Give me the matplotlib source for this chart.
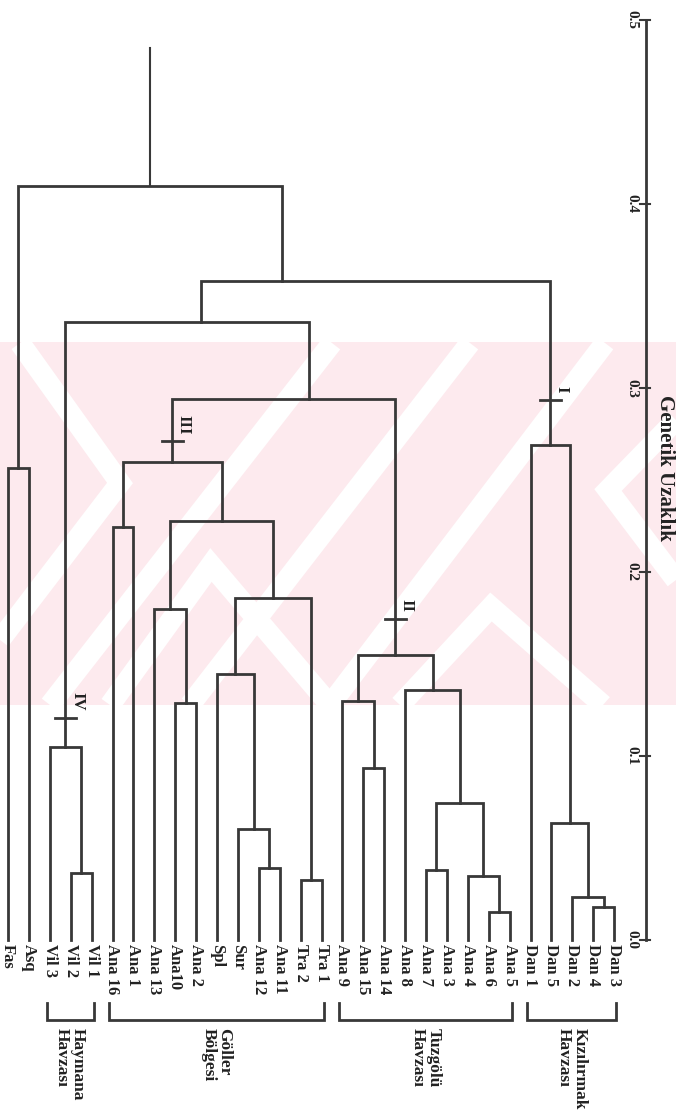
import matplotlib
matplotlib.use("Agg")
import matplotlib.pyplot as plt
from matplotlib.patches import Rectangle

# leaves, left to right
leaves = ["Fas", "Asq", "Vil 3", "Vil 2", "Vil 1", "Ana 16", "Ana 1", "Ana 13",
          "Ana10", "Ana 2", "Spl", "Sur", "Ana 12", "Ana 11", "Tra 2", "Tra 1",
          "Ana 9", "Ana 15", "Ana 14", "Ana 8", "Ana 7", "Ana 3", "Ana 4",
          "Ana 6", "Ana 5", "Dan 1", "Dan 5", "Dan 2", "Dan 4", "Dan 3"]

# merges (node, left child, right child, genetic distance)
node_names = ["n_fas", "n_vil12", "n_vil", "n_a16", "n_a10", "n_a13", "n_a12",
              "n_sur", "n_spl", "n_tra", "n_spltra", "n_a13spl", "n_goller",
              "n_a15", "n_a9", "n_a7", "n_a65", "n_a4", "n_a734", "n_a8",
              "n_tuz", "n_gt", "n_vgt", "n_d43", "n_d2", "n_d5", "n_dan",
              "n_all", "root"]
merge_left = ["Fas", "Vil 2", "Vil 3", "Ana 16", "Ana10", "Ana 13", "Ana 12",
              "Sur", "Spl", "Tra 2", "n_spl", "n_a13", "n_a16",
              "Ana 15", "Ana 9", "Ana 7", "Ana 6", "Ana 4", "n_a7", "Ana 8",
              "n_a9", "n_goller", "n_vil", "Dan 4", "Dan 2", "Dan 5", "Dan 1",
              "n_vgt", "n_fas"]
merge_right = ["Asq", "Vil 1", "n_vil12", "Ana 1", "Ana 2", "n_a10", "Ana 11",
               "n_a12", "n_sur", "Tra 1", "n_tra", "n_spltra", "n_a13spl",
               "Ana 14", "n_a15", "Ana 3", "Ana 5", "n_a65", "n_a4", "n_a734",
               "n_a8", "n_tuz", "n_gt", "Dan 3", "n_d43", "n_d2", "n_d5",
               "n_dan", "n_all"]
merge_height = [0.2565, 0.0364, 0.105, 0.2245, 0.129, 0.180, 0.039,
                 0.0603, 0.1446, 0.0326, 0.186, 0.2277, 0.260,
                 0.0935, 0.130, 0.038, 0.0152, 0.035, 0.0745, 0.136,
                 0.155, 0.294, 0.336, 0.018, 0.0234, 0.0636, 0.269,
                 0.358, 0.410]
root_top = 0.485

# clusters whose stem is not drawn at the midpoint (leaf index units)
stem_at = {"n_gt": 14.4, "n_vgt": 9.23, "n_all": 13.1}

# cluster marks
mark_nodes = ["n_dan", "n_tuz", "n_goller", "n_vil"]
mark_labels = ["I", "II", "III", "IV"]
mark_heights = [0.2935, 0.1745, 0.271, 0.1207]

# region groups
group_labels = ["Haymana\nHavzası", "Göller\nBölgesi", "Tuzgölü\nHavzası", "Kızılırmak\nHavzası"]
group_first = ["Vil 3", "Ana 16", "Ana 9", "Dan 1"]
group_last = ["Vil 1", "Tra 1", "Ana 5", "Dan 3"]

ticks = [0.0, 0.1, 0.2, 0.3, 0.4, 0.5]

# pixel layout of the page
W, H = 676, 1120
X0, DX = 8, 20.9      # first leaf pixel, pixels per leaf
Y0, DY = 940, 1840    # pixel of distance 0, pixels per unit distance
INK = "#383838"
SERIF = "Liberation Serif"

def px(x):
    return (x - X0) / DX

def dy(p):
    return p / DY

fig = plt.figure(figsize=(W / 100, H / 100), dpi=100)
fig.patch.set_facecolor("white")

# faint pink watermark band (scanned page background)
bg = fig.add_axes([0, 0, 1, 1], zorder=0)
bg.set_xlim(0, W)
bg.set_ylim(H, 0)
bg.axis("off")
band = Rectangle((0, 342), W, 363, facecolor="#fdeaee", edgecolor="none")
bg.add_patch(band)
wm_strokes = [
    [(332, 343), (50, 705)],
    [(470, 343), (190, 705)],
    [(605, 343), (330, 705)],
    [(20, 343), (120, 483), (0, 640)],
    [(676, 420), (608, 490), (676, 580)],
    [(400, 705), (491, 607), (603, 705)],
    [(110, 705), (211, 565), (330, 705)],
]
for stroke in wm_strokes:
    xs, ys = zip(*stroke)
    ln, = bg.plot(xs, ys, color="white", lw=15, solid_capstyle="butt",
                  solid_joinstyle="miter")
    ln.set_clip_path(band)

ax = fig.add_axes([0, 0, 1, 1], zorder=1)
ax.patch.set_alpha(0)
ax.set_xlim(px(0), px(W))
ax.set_ylim((Y0 - H) / DY, Y0 / DY)
ax.axis("off")

pos = {name: i for i, name in enumerate(leaves)}
hgt = {name: 0.0 for name in leaves}
for name, l, r, h in zip(node_names, merge_left, merge_right, merge_height):
    ax.plot([pos[l], pos[l], pos[r], pos[r]], [hgt[l], h, h, hgt[r]],
            color=INK, lw=2.0, solid_joinstyle="miter")
    pos[name] = stem_at.get(name, (pos[l] + pos[r]) / 2)
    hgt[name] = h
ax.plot([pos["root"], pos["root"]], [hgt["root"], root_top], color=INK, lw=1.5)

# leaf labels
for i, name in enumerate(leaves):
    ax.text(i, -dy(4), name, rotation=-90, ha="center", va="top",
            fontsize=12, fontweight="bold", family=SERIF, color="#222222")

# cluster marks
for node, lab, h in zip(mark_nodes, mark_labels, mark_heights):
    x = pos[node]
    ax.plot([x - 0.5, x + 0.5], [h, h], color=INK, lw=2.0)
    ax.text(x + 0.55, h + dy(7), lab, rotation=-90, ha="center", va="bottom",
            fontsize=12, fontweight="bold", family=SERIF, color="#222222")

# group brackets
for lab, a, b in zip(group_labels, group_first, group_last):
    x1, x2 = pos[a] - 0.15, pos[b] + 0.1
    y1, y2 = -dy(63), -dy(80)
    ax.plot([x1, x1, x2, x2], [y1, y2, y2, y1], color=INK, lw=2.0,
            solid_joinstyle="miter")
    ax.text((x1 + x2) / 2, -dy(88), lab, rotation=-90, ha="center", va="top",
            multialignment="left", linespacing=1.0, fontsize=12.5,
            fontweight="bold", family=SERIF, color="#222222")

# distance scale
xa = px(646)
ax.plot([xa, xa], [ticks[0], ticks[-1]], color=INK, lw=2.0)
for t in ticks:
    ax.plot([px(640), px(650)], [t, t], color=INK, lw=1.5)
    ax.text(px(632), t, f"{t:.1f}", rotation=-90, ha="center", va="center",
            fontsize=11, fontweight="bold", family=SERIF, color="#222222")
ax.text(px(665), dy(Y0 - 468), "Genetik Uzaklık", rotation=-90, ha="center",
        va="center", fontsize=15, fontweight="bold", family=SERIF, color="#222222")

fig.savefig("out.png", dpi=100)
